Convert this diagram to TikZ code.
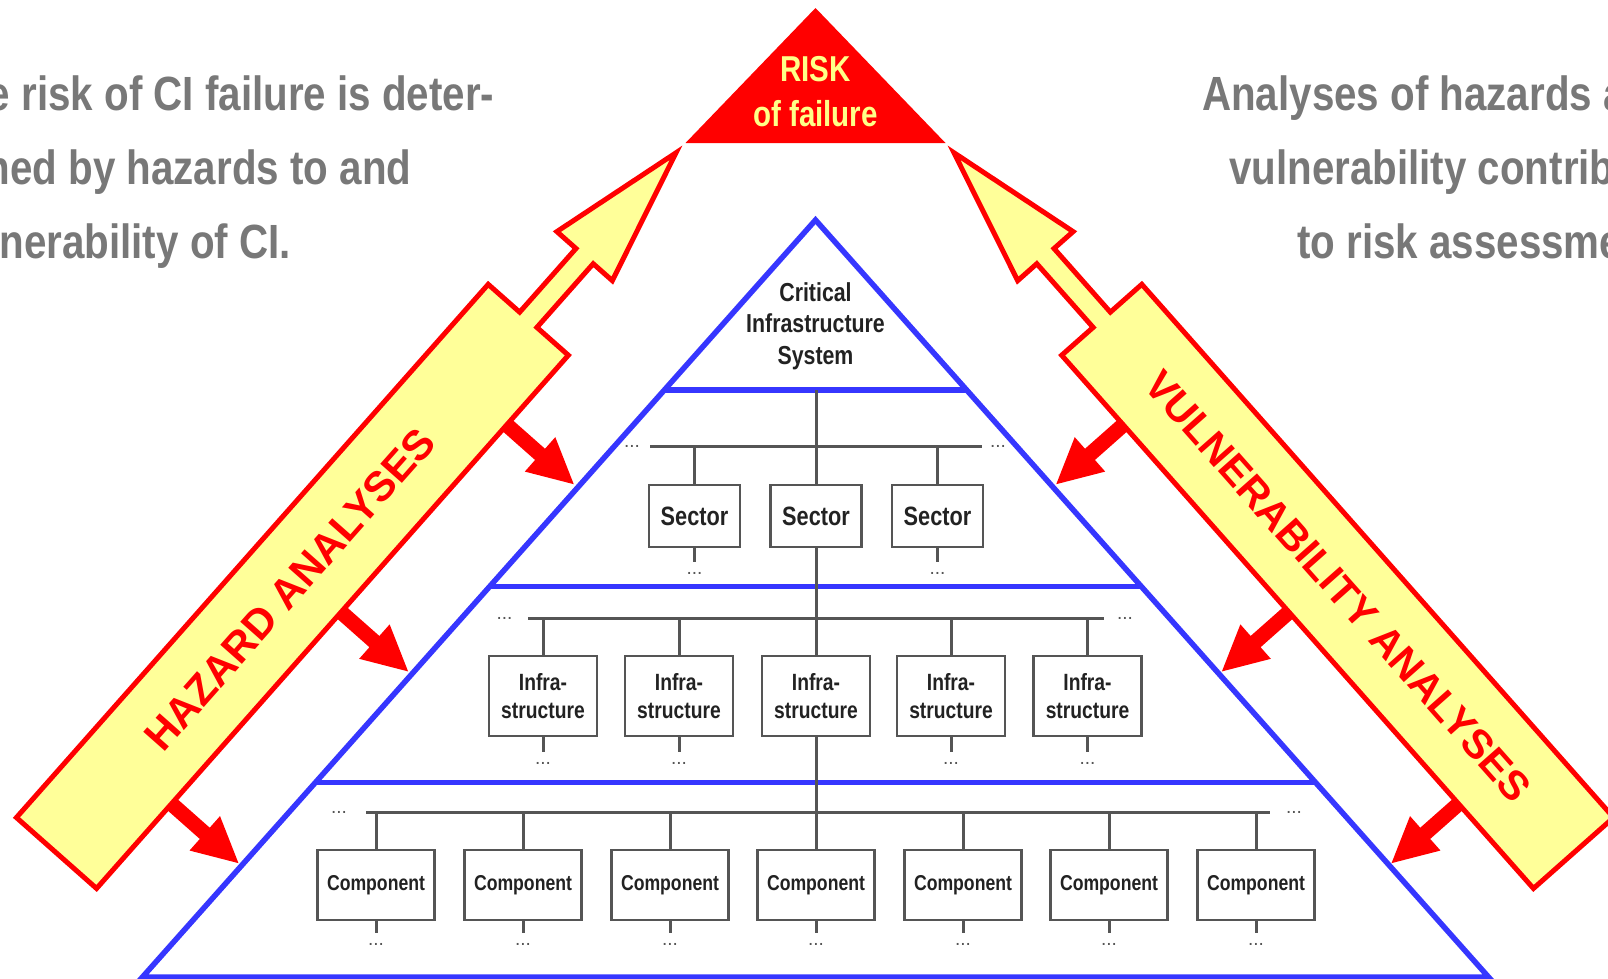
\documentclass[tikz,border=0pt]{standalone}
\usepackage{fontspec}
\setmainfont{Liberation Sans}
\newfontfamily\condf{Liberation Sans}[FakeStretch=0.82]
\newfontfamily\condg{Liberation Sans}[FakeStretch=0.84]
\usetikzlibrary{calc}
\definecolor{pblue}{HTML}{3636FF}
\definecolor{treegray}{HTML}{555555}
\definecolor{txtgray}{HTML}{787878}
\definecolor{bandyellow}{HTML}{FFFF99}
\definecolor{risktext}{HTML}{FFFF88}
\definecolor{boxtext}{HTML}{222222}
\tikzset{
 pyr/.style={draw=pblue, line width=5.5pt},
 tree/.style={draw=treegray, line width=3pt},
 cbox/.style={draw=treegray, line width=2.7pt, fill=white, inner sep=0pt, align=center, text=boxtext},
 sectorbox/.style={cbox, minimum width=91pt, minimum height=62pt, font=\condf\bfseries\fontsize{26.5}{30}\selectfont},
 infrabox/.style={cbox, minimum width=108pt, minimum height=80pt, font=\condf\bfseries\fontsize{23.5}{27.6}\selectfont},
 compbox/.style={cbox, minimum width=117pt, minimum height=70pt, font=\condf\bfseries\fontsize{21.5}{24}\selectfont},
 dotn/.style={inner xsep=0pt, inner ysep=9.5pt, text=treegray, font=\fontsize{19}{20}\selectfont},
 bandst/.style={draw=red, fill=bandyellow, line width=5pt, line join=miter},
 sidetext/.style={inner sep=0pt, text=txtgray, font=\condg\bfseries\fontsize{48}{56}\selectfont},
 bandtext/.style={inner sep=0pt, text=red, font=\bfseries\fontsize{42}{48}\selectfont},
 risktxt/.style={inner sep=0pt, text=risktext, font=\condf\bfseries\fontsize{36}{40}\selectfont},
}
\newcommand{\bandarrowpic}{%
 \foreach \a in {113,369,619}{
   \fill[red] (\a-7.5,-48) -- (\a-7.5,-98) -- (\a-23,-98) -- (\a,-143) -- (\a+23,-98) -- (\a+7.5,-98) -- (\a+7.5,-48) -- cycle;
 }
 \draw[bandst] (0,53.5) -- (712,53.5) -- (712,11.5) -- (797,11.5) -- (797,37) -- (935,0) -- (797,-37) -- (797,-11.5) -- (712,-11.5) -- (712,-53.5) -- (0,-53.5) -- cycle;
}
\begin{document}
\begin{tikzpicture}[x=1pt,y=-1pt]
\useasboundingbox (0,0) rectangle (1608,978);
\fill[white] (0,0) rectangle (1608,978);
\clip (0,0) rectangle (1608,978);

% blue pyramid
\coordinate (apex) at (815.5,220);
\coordinate (bl) at (142.5,977);
\coordinate (br) at (1488.5,977);
\draw[pyr, line join=miter] (apex) -- (br) -- (bl) -- cycle;
\draw[pyr] ($(apex)!0.2246!(bl)$) -- ($(apex)!0.2246!(br)$);
\draw[pyr] ($(apex)!0.4843!(bl)$) -- ($(apex)!0.4843!(br)$);
\draw[pyr] ($(apex)!0.7431!(bl)$) -- ($(apex)!0.7431!(br)$);

% top label
\node[align=center, text=boxtext, inner sep=0pt, font=\condf\bfseries\fontsize{26}{31.7}\selectfont] (cis) at (815.5,326) {Critical\\Infrastructure\\System};

% tree coordinates
\coordinate (l1) at (816,390);
\coordinate (sbarL) at (650,446);
\coordinate (sbarR) at (982,446);
\coordinate (ibarL) at (528,618);
\coordinate (ibarR) at (1104,618);
\coordinate (cbarL) at (366,812);
\coordinate (cbarR) at (1270,812);
\draw[tree] (sbarL) -- (sbarR);
\draw[tree] (ibarL) -- (ibarR);
\draw[tree] (cbarL) -- (cbarR);
\node[dotn] (sdl) at (632,446) {...};
\node[dotn] (sdr) at (998,446) {...};
\node[dotn] (idl) at (504.5,618) {...};
\node[dotn] (idr) at (1125,618) {...};
\node[dotn] (cdl) at (339,812) {...};
\node[dotn] (cdr) at (1294,812) {...};

% sectors
\node[sectorbox] (s1) at (694.5,516) {Sector};
\node[sectorbox] (s2) at (816,516) {Sector};
\node[sectorbox] (s3) at (937.5,516) {Sector};
\draw[tree] (l1) -- (s2.north);
\foreach \n in {s1,s3}{
  \draw[tree] (\n.north) -- (\n.north |- sbarL);
}
\node[dotn] (s1d) at (694.5,573) {...};
\node[dotn] (s3d) at (937.5,573) {...};
\draw[tree] (s1.south) -- (s1d.north);
\draw[tree] (s3.south) -- (s3d.north);

% infrastructures
\node[infrabox] (i1) at (543,696) {Infra-\\structure};
\node[infrabox] (i2) at (679,696) {Infra-\\structure};
\node[infrabox] (i3) at (816,696) {Infra-\\structure};
\node[infrabox] (i4) at (951,696) {Infra-\\structure};
\node[infrabox] (i5) at (1087.5,696) {Infra-\\structure};
\draw[tree] (s2.south) -- (i3.north);
\foreach \n/\x in {i1/543,i2/679,i4/951,i5/1087.5}{
  \draw[tree] (\n.north) -- (\n.north |- ibarL);
  \node[dotn] (\n d) at (\x,763) {...};
  \draw[tree] (\n.south) -- (\n d.north);
}

% components
\foreach \n/\x in {c1/376,c2/523,c3/670,c4/816,c5/963,c6/1109,c7/1256}{
  \node[compbox] (\n) at (\x,885) {Component};
  \node[dotn] (\n d) at (\x,944) {...};
  \draw[tree] (\n.south) -- (\n d.north);
}
\draw[tree] (i3.south) -- (c4.north);
\foreach \n in {c1,c2,c3,c5,c6,c7}{
  \draw[tree] (\n.north) -- (\n.north |- cbarL);
}

% analysis bands
\begin{scope}[shift={(56.5,853)}, y=1pt, rotate=48.5]
  \bandarrowpic
\end{scope}
\begin{scope}[shift={(1573.5,853)}, y=1pt, xscale=-1, rotate=48.5]
  \bandarrowpic
\end{scope}
\node[bandtext, rotate=48.5] (haz) at (289.7,589.4) {HAZARD ANALYSES};
\node[bandtext, rotate=-48.5, font=\bfseries\fontsize{41}{48}\selectfont] (vul) at (1338,586) {VULNERABILITY ANALYSES};

% risk triangle
\fill[red] (815.5,8) -- (945.5,143) -- (685.5,143) -- cycle;
\node[risktxt, anchor=base] (risk) at (815.5,81.7) {RISK};
\node[risktxt, anchor=base] (fail) at (815.5,126.7) {of failure};

% side texts
\node[sidetext, anchor=base east] (lt1) at (494.5,110) {The risk of CI failure is deter-};
\node[sidetext, anchor=base east] (lt2) at (411.5,184) {mined by hazards to and};
\node[sidetext, anchor=base east] (lt3) at (291,258) {vulnerability of CI.};
\node[sidetext, anchor=base west] (rt1) at (1202,110) {Analyses of hazards and};
\node[sidetext, anchor=base west] (rt2) at (1229,184) {vulnerability contribute};
\node[sidetext, anchor=base west] (rt3) at (1297,258) {to risk assessment.};
\end{tikzpicture}
\end{document}
